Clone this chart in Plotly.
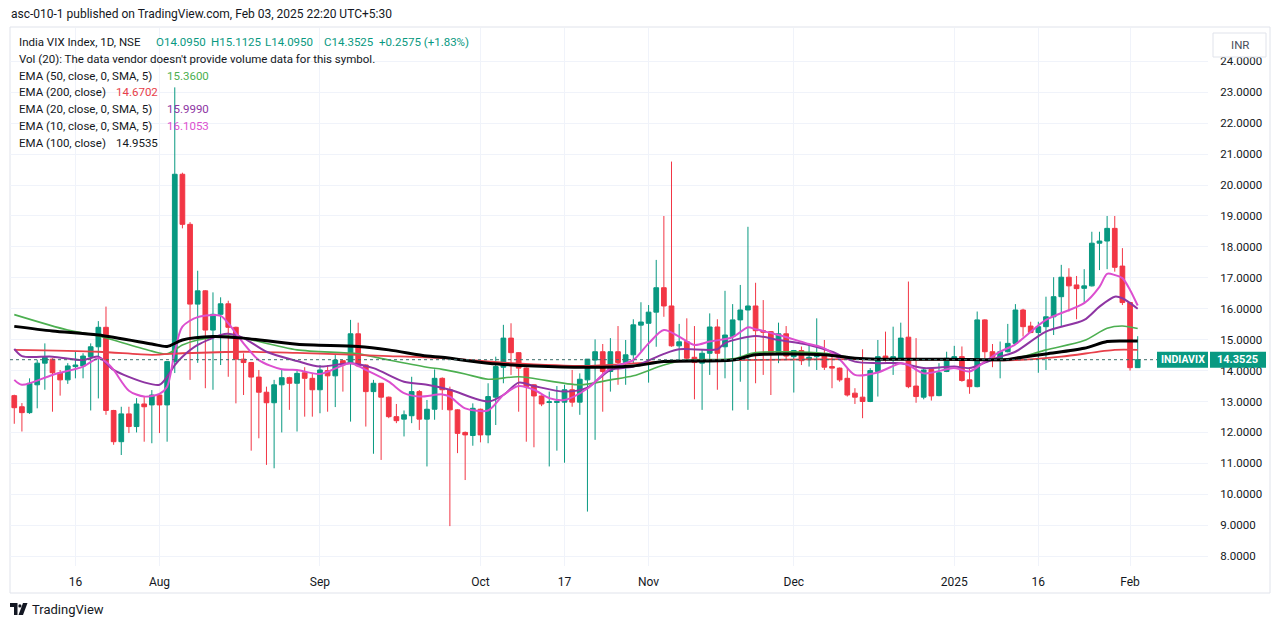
import pandas as pd
import plotly.graph_objects as go

# ---------------- trading calendar (NSE) ----------------
holidays = ["2024-07-17", "2024-08-15", "2024-10-02", "2024-11-15", "2024-11-20", "2024-12-25"]
extra_sessions = ["2025-02-01"]
_days = [d.strftime("%Y-%m-%d") for d in pd.bdate_range("2024-07-04", "2025-02-03")]
dates = sorted([d for d in _days if d not in holidays] + extra_sessions)

# ---------------- OHLC ----------------
opens = [13.19, 12.83, 12.64, 13.54, 14.24, 14.37, 13.93, 13.70, 14.13, 14.15,
         14.45, 14.77, 15.40, 12.71, 11.70, 12.60, 12.19, 12.92, 12.89, 13.21,
         12.89, 14.29, 20.35, 18.73, 16.15, 16.58, 15.31, 15.82, 16.16, 15.40,
         14.37, 14.26, 13.79, 13.30, 12.96, 13.54, 13.77, 13.59, 13.93, 13.75,
         13.38, 14.00, 13.83, 14.32, 14.24, 15.19, 14.18, 13.32, 13.59, 13.14,
         12.51, 12.43, 12.54, 13.32, 12.43, 12.75, 13.75, 13.38, 12.73, 12.00,
         11.90, 12.75, 11.92, 13.14, 14.11, 15.05, 14.58, 14.08, 13.54, 13.18,
         12.97, 12.97, 12.98, 13.38, 12.98, 13.70, 14.34, 14.61, 13.97, 14.61,
         14.26, 14.51, 15.47, 15.53, 15.89, 16.68, 16.09, 14.80, 14.94, 14.43,
         14.24, 14.56, 15.41, 14.77, 15.10, 15.64, 15.96, 16.09, 15.29, 15.26,
         14.58, 15.19, 14.45, 14.65, 14.35, 14.45, 14.51, 14.13, 14.08, 13.75,
         13.27, 13.14, 13.00, 13.97, 14.47, 14.35, 14.40, 15.08, 13.50, 13.14,
         14.04, 13.19, 13.97, 14.37, 14.45, 13.70, 13.48, 15.64, 14.61, 14.40,
         14.61, 14.88, 15.96, 15.44, 15.23, 15.42, 15.74, 16.39, 17.02, 16.77,
         16.66, 16.74, 18.12, 18.19, 18.60, 17.38, 16.20, 14.095]
highs = [13.22, 12.95, 13.75, 14.35, 14.88, 14.40, 14.02, 14.24, 14.61, 14.56,
         14.88, 15.60, 16.07, 12.73, 12.83, 12.83, 13.11, 13.16, 13.37, 13.27,
         14.30, 23.16, 20.40, 18.80, 17.23, 16.60, 16.53, 16.37, 16.26, 15.42,
         14.56, 14.28, 14.02, 13.48, 13.70, 14.02, 13.80, 14.02, 14.11, 13.89,
         14.18, 14.18, 14.51, 14.34, 15.64, 15.55, 14.20, 13.70, 13.60, 13.16,
         12.92, 12.71, 13.80, 13.37, 13.05, 14.04, 13.78, 13.48, 12.75, 12.03,
         12.94, 12.77, 13.59, 14.45, 15.48, 15.53, 14.60, 14.10, 13.56, 13.20,
         13.32, 13.50, 13.54, 14.02, 13.91, 14.37, 15.01, 14.86, 15.05, 15.44,
         14.99, 15.66, 16.21, 16.12, 17.58, 19.00, 20.76, 15.51, 15.69, 15.44,
         14.69, 15.85, 15.66, 16.58, 16.15, 16.77, 18.65, 16.84, 16.28, 15.28,
         15.55, 15.44, 14.66, 14.78, 14.83, 15.69, 14.99, 14.45, 14.10, 14.08,
         13.43, 14.69, 14.08, 14.99, 15.26, 15.42, 15.55, 16.88, 15.05, 14.08,
         14.05, 14.24, 14.61, 14.80, 14.78, 14.08, 15.91, 15.66, 14.86, 14.94,
         15.51, 16.15, 16.00, 15.58, 15.58, 16.39, 17.02, 17.42, 17.31, 17.06,
         17.28, 18.49, 18.49, 19.00, 19.00, 17.96, 16.22, 15.1125]
lows = [12.28, 12.03, 12.60, 12.78, 13.38, 12.67, 13.19, 13.57, 13.75, 13.75,
        12.71, 13.10, 12.57, 11.60, 11.27, 11.98, 12.00, 11.70, 11.65, 11.98,
        11.70, 13.92, 18.60, 13.70, 14.25, 13.43, 13.38, 14.18, 13.80, 12.94,
        13.21, 11.41, 11.81, 10.95, 10.84, 12.00, 12.73, 12.03, 12.51, 12.51,
        12.62, 12.67, 12.82, 13.32, 12.35, 14.11, 12.19, 11.31, 11.11, 12.46,
        12.30, 11.87, 12.30, 12.08, 10.90, 12.41, 12.73, 8.97, 11.33, 10.46,
        11.57, 11.68, 11.65, 12.24, 13.59, 13.86, 12.67, 11.70, 11.52, 12.85,
        10.90, 11.41, 11.02, 12.83, 12.57, 9.44, 11.76, 12.67, 13.32, 13.54,
        13.54, 14.24, 14.61, 13.61, 14.77, 15.74, 14.77, 14.32, 14.35, 13.07,
        12.73, 13.86, 13.38, 13.75, 12.71, 13.64, 12.73, 13.59, 13.86, 13.21,
        14.24, 14.37, 13.29, 14.18, 14.13, 14.02, 14.02, 13.43, 13.64, 13.16,
        12.92, 12.46, 12.98, 13.16, 14.29, 13.86, 14.35, 13.43, 12.96, 13.07,
        13.03, 13.17, 13.95, 14.35, 13.64, 13.25, 13.46, 14.40, 14.11, 13.75,
        14.59, 14.86, 15.10, 15.21, 13.93, 14.02, 15.15, 15.42, 15.91, 15.66,
        16.18, 16.72, 17.25, 17.28, 17.20, 16.12, 14.00, 14.095]
closes = [12.80, 12.64, 13.59, 14.24, 14.43, 13.93, 13.70, 14.15, 14.18, 14.47,
          14.77, 15.40, 12.71, 11.70, 12.60, 12.19, 12.92, 12.83, 13.21, 12.89,
          14.29, 20.35, 18.73, 16.15, 16.58, 15.31, 15.82, 16.16, 15.40, 14.37,
          14.26, 13.79, 13.30, 12.96, 13.54, 13.77, 13.59, 13.91, 13.75, 13.38,
          14.02, 13.83, 14.34, 14.18, 15.19, 14.15, 13.32, 13.59, 13.14, 12.51,
          12.38, 12.57, 13.32, 12.43, 12.75, 13.75, 13.38, 12.73, 11.97, 11.92,
          12.78, 11.92, 13.16, 14.13, 15.05, 14.58, 14.08, 13.48, 13.18, 12.92,
          12.99, 13.00, 13.38, 12.98, 13.72, 14.37, 14.61, 13.97, 14.61, 14.26,
          14.51, 15.48, 15.57, 15.89, 16.68, 16.09, 14.80, 14.93, 14.40, 14.26,
          14.56, 15.41, 14.56, 15.15, 15.64, 15.96, 16.09, 15.29, 15.24, 14.58,
          15.19, 14.47, 14.65, 14.32, 14.43, 14.51, 14.11, 14.08, 13.70, 13.21,
          13.14, 13.00, 14.00, 14.45, 14.34, 14.45, 15.05, 13.48, 13.16, 14.02,
          13.18, 13.93, 14.40, 14.45, 13.68, 13.48, 15.64, 14.61, 14.43, 14.61,
          14.88, 15.96, 15.42, 15.23, 15.42, 15.74, 16.39, 17.02, 16.74, 16.65,
          16.74, 18.12, 18.19, 18.60, 17.34, 16.20, 14.095, 14.3525]

# ---------------- EMA lines (sampled at candle numbers) ----------------
ema50_at = [0, 7, 11, 18, 20, 22, 24, 28, 30, 37, 45, 49, 54, 56, 59, 62, 66, 74, 78, 81, 85, 88,
            94, 97, 106, 110, 113, 122, 131, 135, 140, 143, 145, 147]
ema50 = [15.81, 15.31, 15.12, 14.63, 14.54, 14.83, 14.99, 15.12, 15.05, 14.67, 14.54, 14.34, 14.11,
         14.04, 13.89, 13.72, 13.80, 13.54, 13.70, 13.83, 14.18, 14.34, 14.38, 14.58, 14.56, 14.40,
         14.37, 14.36, 14.40, 14.67, 14.97, 15.37, 15.44, 15.36]
ema200_at = [0, 11, 18, 22, 30, 37, 49, 56, 64, 75, 85, 94, 113, 131, 137, 144, 147]
ema200 = [14.67, 14.61, 14.51, 14.56, 14.61, 14.57, 14.47, 14.40, 14.26, 14.15, 14.29, 14.34,
          14.37, 14.34, 14.45, 14.67, 14.6702]
ema20_at = [0, 1, 5, 9, 11, 13, 17, 19, 20, 21, 22, 24, 27, 28, 30, 33, 37, 40, 44, 47, 51, 54,
            57, 62, 64, 66, 68, 72, 75, 78, 81, 85, 87, 92, 93, 97, 100, 104, 107, 110, 113, 116,
            119, 123, 125, 127, 129, 131, 135, 140, 142, 144, 145, 147]
ema20 = [14.70, 14.47, 14.45, 14.34, 14.45, 14.02, 13.62, 13.54, 13.80, 14.18, 14.45, 14.83,
         15.15, 15.19, 15.05, 14.61, 14.31, 14.13, 14.24, 14.08, 13.64, 13.54, 13.38, 13.00,
         13.21, 13.61, 13.50, 13.32, 13.45, 14.02, 14.13, 14.54, 14.69, 14.69, 14.89, 15.12,
         14.99, 14.83, 14.61, 14.29, 14.24, 14.24, 14.08, 14.13, 14.08, 14.26, 14.45, 14.61,
         15.26, 15.64, 16.07, 16.39, 16.34, 15.999]
ema10_at = [0, 1, 5, 9, 11, 12, 13, 15, 17, 19, 20, 21, 22, 24, 27, 28, 30, 32, 35, 37, 40, 44,
            46, 49, 51, 53, 56, 57, 59, 62, 64, 66, 68, 70, 72, 75, 78, 81, 83, 85, 87, 89, 91,
            94, 96, 97, 100, 104, 106, 108, 110, 113, 116, 117, 119, 123, 125, 127, 129, 131,
            135, 140, 142, 143, 144, 145, 146, 147]
ema10 = [13.70, 13.54, 13.86, 14.13, 14.40, 14.28, 14.02, 13.35, 13.16, 13.25, 13.48, 14.61,
         15.42, 15.73, 15.77, 15.53, 14.88, 14.34, 14.04, 14.02, 13.89, 14.24, 14.02, 13.64,
         13.27, 13.16, 13.23, 13.16, 12.78, 12.71, 13.21, 13.50, 13.38, 13.11, 13.05, 13.42,
         14.08, 14.34, 14.88, 15.31, 15.10, 14.83, 14.94, 15.08, 15.40, 15.34, 15.15, 14.86,
         14.72, 14.37, 13.86, 13.94, 14.24, 14.18, 13.91, 14.08, 13.97, 14.29, 14.61, 14.85,
         15.64, 16.18, 16.71, 17.13, 17.09, 16.99, 16.61, 16.1053]
ema100_at = [0, 5, 11, 18, 20, 22, 26, 30, 37, 45, 49, 54, 56, 62, 68, 75, 81, 85, 94, 97, 106,
             110, 113, 122, 130, 131, 135, 140, 143, 145, 147]
ema100 = [15.43, 15.28, 15.15, 14.86, 14.78, 14.99, 15.10, 15.05, 14.85, 14.78, 14.67, 14.47,
          14.43, 14.24, 14.15, 14.11, 14.15, 14.29, 14.34, 14.51, 14.51, 14.40, 14.37, 14.37,
          14.36, 14.40, 14.54, 14.72, 14.94, 14.96, 14.9535]

tick_dates = ["2024-07-16", "2024-08-01", "2024-09-02", "2024-10-01", "2024-10-17",
              "2024-11-01", "2024-12-02", "2025-01-01", "2025-01-16", "2025-02-01"]
tick_labels = ["16", "Aug", "Sep", "Oct", "17", "Nov", "Dec", "2025", "16", "Feb"]
price_ticks = list(range(8, 25))

# ---------------- styling ----------------
UP, DOWN = "#089981", "#f23645"
C50, C200, C20, C10, C100 = "#4caf50", "#e8404a", "#8e35a3", "#dc4fcf", "#000000"
TXT = "#131722"
GRID = "#f0f3fa"
FONT = "Roboto"

PL, PR, PT, PB = 10, 1208, 28, 566


def fx(px):
    return (px - PL) / (PR - PL)


def fy(py):
    return (PB - py) / (PB - PT)


fig = go.Figure()
fig.add_trace(go.Candlestick(
    x=dates, open=opens, high=highs, low=lows, close=closes,
    increasing=dict(line=dict(color=UP, width=1), fillcolor=UP),
    decreasing=dict(line=dict(color=DOWN, width=1), fillcolor=DOWN),
    whiskerwidth=0, hoverinfo="skip", showlegend=False))


def ema_trace(at, vals, color, width):
    return go.Scatter(x=[dates[i] for i in at], y=vals, mode="lines",
                      line=dict(color=color, width=width, shape="spline", smoothing=0.8),
                      hoverinfo="skip", showlegend=False)


fig.add_trace(ema_trace(ema50_at, ema50, C50, 1.6))
fig.add_trace(ema_trace(ema200_at, ema200, C200, 1.8))
fig.add_trace(ema_trace(ema20_at, ema20, C20, 2))
fig.add_trace(ema_trace(ema10_at, ema10, C10, 2))
fig.add_trace(ema_trace(ema100_at, ema100, C100, 3))

last_close = closes[-1]
half = 8 / 30.93

shapes = [
    # pane border
    dict(type="rect", xref="paper", yref="paper", x0=fx(10), x1=fx(1270), y0=fy(593), y1=fy(27),
         line=dict(color="#e0e3eb", width=1), fillcolor="rgba(0,0,0,0)", layer="below"),
    # last price dotted line
    dict(type="line", xref="paper", yref="y", x0=0, x1=fx(1157), y0=last_close, y1=last_close,
         line=dict(color="#3d6e6a", width=1, dash="dot")),
    # INDIAVIX tag
    dict(type="rect", xref="paper", yref="y", x0=fx(1157), x1=fx(1208), y0=last_close - half,
         y1=last_close + half, fillcolor=UP, line=dict(width=0)),
    dict(type="rect", xref="paper", yref="y", x0=fx(1210), x1=fx(1266), y0=last_close - half,
         y1=last_close + half, fillcolor=UP, line=dict(width=0)),
    # INR box
    dict(type="rect", xref="paper", yref="paper", x0=fx(1213), x1=fx(1266), y0=fy(57), y1=fy(33),
         fillcolor="white", line=dict(color="#e0e3eb", width=1)),
    # TradingView logo
    dict(type="path", xref="paper", yref="paper",
         path="M{},{} L{},{} L{},{} L{},{} L{},{} L{},{} Z".format(
             fx(10), fy(603), fx(17.5), fy(603), fx(17.5), fy(615), fx(14), fy(615),
             fx(14), fy(607), fx(10), fy(607)),
         fillcolor=TXT, line=dict(width=0)),
    dict(type="circle", xref="paper", yref="paper", x0=fx(18.3), x1=fx(21.5), y0=fy(607.5),
         y1=fy(604.3), fillcolor=TXT, line=dict(width=0)),
    dict(type="path", xref="paper", yref="paper",
         path="M{},{} L{},{} L{},{} L{},{} Z".format(
             fx(23), fy(603), fx(27.5), fy(603), fx(23), fy(615), fx(18.5), fy(615)),
         fillcolor=TXT, line=dict(width=0)),
]

annotations = []


def ann(text, px, py, color=TXT, size=12, anchor="left", **kw):
    annotations.append(dict(text=text, x=fx(px), y=fy(py), xref="paper", yref="paper",
                            xanchor=anchor, yanchor="middle", showarrow=False,
                            font=dict(family=FONT, size=size, color=color), **kw))


LS = 11.5
ann("asc-010-1 published on TradingView.com, Feb 03, 2025 22:20 UTC+5:30", 9, 14, size=12)
ann("India VIX Index, 1D, NSE", 17, 42, size=LS)
ann("O14.0950", 154, 42, UP, size=LS)
ann("H15.1125", 209, 42, UP, size=LS)
ann("L14.0950", 263, 42, UP, size=LS)
ann("C14.3525", 322, 42, UP, size=LS)
ann("+0.2575 (+1.83%)", 377, 42, UP, size=LS)
ann("Vol (20): The data vendor doesn't provide volume data for this symbol.", 17, 59, size=LS)
ann("EMA (50, close, 0, SMA, 5)", 17, 76, size=LS)
ann("15.3600", 165, 76, C50, size=LS)
ann("EMA (200, close)", 17, 92, size=LS)
ann("14.6702", 114, 92, C200, size=LS)
ann("EMA (20, close, 0, SMA, 5)", 17, 109, size=LS)
ann("15.9990", 165, 109, C20, size=LS)
ann("EMA (10, close, 0, SMA, 5)", 17, 126, size=LS)
ann("16.1053", 165, 126, C10, size=LS)
ann("EMA (100, close)", 17, 143, size=LS)
ann("14.9535", 114, 143, TXT, size=LS)
ann("INR", 1239.5, 45, "#4a4e5a", size=11.5, anchor="center")
ann("TradingView", 30, 609, TXT, size=13)
annotations.append(dict(text="<b>INDIAVIX</b>", x=fx(1182.5), y=last_close, xref="paper", yref="y",
                        xanchor="center", yanchor="middle", showarrow=False,
                        font=dict(family=FONT, size=10.5, color="white")))
annotations.append(dict(text="<b>%.4f</b>" % last_close, x=fx(1238), y=last_close, xref="paper",
                        yref="y", xanchor="center", yanchor="middle", showarrow=False,
                        font=dict(family=FONT, size=11, color="white")))

fig.update_layout(
    width=1281, height=627,
    margin=dict(l=PL, r=1281 - PR, t=PT, b=627 - PB),
    paper_bgcolor="white", plot_bgcolor="white",
    font=dict(family=FONT, color=TXT),
    showlegend=False,
    boxgap=0.3, boxgroupgap=0.12,
    shapes=shapes, annotations=annotations,
    xaxis=dict(type="category", categoryorder="array", categoryarray=dates,
               range=[-0.56, 156.2], tickmode="array", tickvals=tick_dates, ticktext=tick_labels,
               showgrid=True, gridcolor=GRID, gridwidth=1, zeroline=False, showline=False,
               ticks="outside", ticklen=5, tickcolor="rgba(0,0,0,0)",
               tickfont=dict(family=FONT, size=12, color=TXT),
               rangeslider=dict(visible=False), fixedrange=True),
    yaxis=dict(side="right", range=[7.68, 25.08], tickmode="array", tickvals=price_ticks,
               ticktext=["%.4f" % v for v in price_ticks], showgrid=True, gridcolor=GRID,
               gridwidth=1, zeroline=False, showline=False, ticks="outside", ticklen=9,
               tickcolor="rgba(0,0,0,0)", tickfont=dict(family=FONT, size=11.5, color=TXT),
               fixedrange=True),
)

fig.write_html("out.html", config={"displayModeBar": False},
               post_script="document.body.style.margin='0';")
